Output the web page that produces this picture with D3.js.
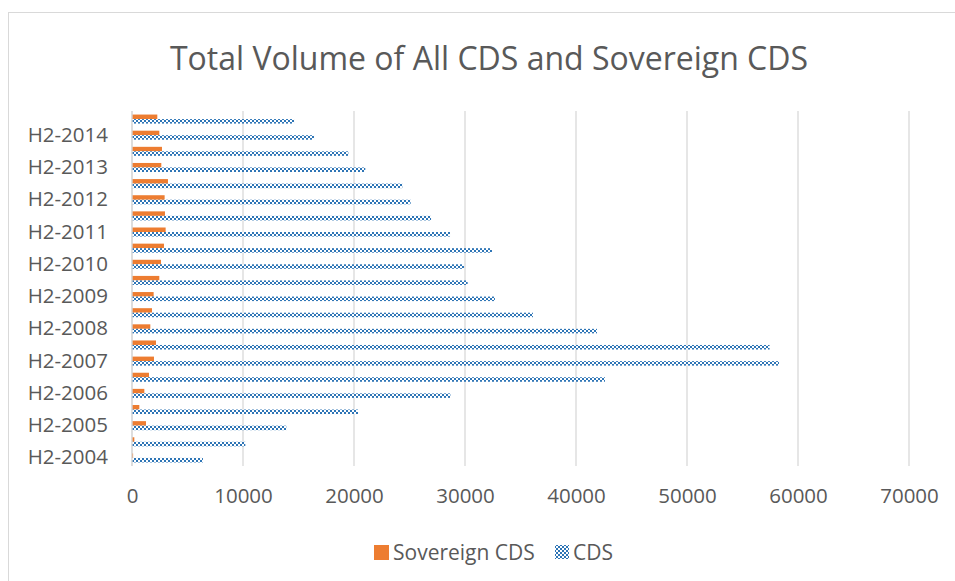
<!DOCTYPE html>
<html>
<head>
<meta charset="utf-8">
<script src="https://cdn.jsdelivr.net/npm/d3@7"></script>
<style>
  body { margin: 0; background: #fff; }
  svg text { font-family: "Open Sans", sans-serif; fill: #595959; }
</style>
</head>
<body>
<svg id="chart"></svg>
<script>
// half-year periods, oldest first
var categories = ["H2-2004", "H1-2005", "H2-2005", "H1-2006", "H2-2006", "H1-2007",
  "H2-2007", "H1-2008", "H2-2008", "H1-2009", "H2-2009", "H1-2010", "H2-2010",
  "H1-2011", "H2-2011", "H1-2012", "H2-2012", "H1-2013", "H2-2013", "H1-2014",
  "H2-2014", "H1-2015"];

var sovereignCDS = [100, 210, 1260, 660, 1110, 1530, 1980, 2160, 1650, 1800, 1950,
  2460, 2610, 2880, 3030, 2970, 2940, 3240, 2640, 2700, 2460, 2280];

var totalCDS = [6390, 10210, 13900, 20360, 28680, 42610, 58290, 57440, 41890, 36120,
  32700, 30240, 29910, 32430, 28650, 26940, 25100, 24350, 21020, 19490, 16400, 14600];

var xTicks = [0, 10000, 20000, 30000, 40000, 50000, 60000, 70000];

var seriesNames = ["Sovereign CDS", "CDS"];

var width = 955;
var height = 581;

var svg = d3.select("#chart")
  .attr("width", width)
  .attr("height", height);

// checker pattern for the CDS bars
var defs = svg.append("defs");
var pat = defs.append("pattern")
  .attr("id", "checker")
  .attr("patternUnits", "userSpaceOnUse")
  .attr("width", 4)
  .attr("height", 4);
pat.append("rect").attr("width", 4).attr("height", 4).attr("fill", "#fff");
pat.append("rect").attr("width", 2).attr("height", 2).attr("fill", "#2e75b6");
pat.append("rect").attr("x", 2).attr("y", 2).attr("width", 2).attr("height", 2).attr("fill", "#2e75b6");

// chart frame
svg.append("rect")
  .attr("x", 8.5)
  .attr("y", 12.5)
  .attr("width", 980)
  .attr("height", 600)
  .attr("fill", "none")
  .attr("stroke", "#d9d9d9");

svg.append("text")
  .attr("x", 489)
  .attr("y", 70)
  .attr("text-anchor", "middle")
  .style("font-size", "32px")
  .text("Total Volume of All CDS and Sovereign CDS");

var x = d3.scaleLinear()
  .domain([0, 70000])
  .range([132, 909]);

var y = d3.scaleBand()
  .domain(categories.slice().reverse())
  .range([111, 466])
  .paddingInner(0.44)
  .paddingOuter(0.22);

var ySeries = d3.scaleBand()
  .domain(seriesNames)
  .range([0, y.bandwidth()]);

// gridlines
svg.append("g")
  .selectAll("line")
  .data(xTicks)
  .enter()
  .append("line")
  .attr("x1", function(d){ return x(d); })
  .attr("x2", function(d){ return x(d); })
  .attr("y1", 111)
  .attr("y2", 466)
  .attr("stroke", "#d9d9d9")
  .attr("stroke-width", 1.3);

var rows = categories.map(function(c, i){
  return {cat: c, sov: sovereignCDS[i], cds: totalCDS[i]};
});

svg.append("g")
  .selectAll("rect")
  .data(rows)
  .enter()
  .append("rect")
  .attr("x", x(0))
  .attr("y", function(d){ return y(d.cat) + ySeries("Sovereign CDS"); })
  .attr("width", function(d){ return x(d.sov) - x(0); })
  .attr("height", ySeries.bandwidth())
  .attr("fill", "#ed7d31");

svg.append("g")
  .selectAll("rect")
  .data(rows)
  .enter()
  .append("rect")
  .attr("x", x(0))
  .attr("y", function(d){ return y(d.cat) + ySeries("CDS"); })
  .attr("width", function(d){ return x(d.cds) - x(0); })
  .attr("height", ySeries.bandwidth())
  .attr("fill", "url(#checker)");

// axes
var yAxis = svg.append("g")
  .attr("transform", "translate(132,0)")
  .call(d3.axisLeft(y)
    .tickValues(categories.filter(function(c){ return c.indexOf("H2") == 0; }))
    .tickSize(0)
    .tickPadding(24));
yAxis.select(".domain").remove();
yAxis.selectAll("text")
  .style("font-size", "20.5px")
  .attr("fill", "#595959");

svg.append("line")
  .attr("x1", x(0)).attr("x2", x(0))
  .attr("y1", 111).attr("y2", 466)
  .attr("stroke", "#d9d9d9")
  .attr("stroke-width", 1.3);

var xAxis = svg.append("g")
  .attr("transform", "translate(0,466)")
  .call(d3.axisBottom(x)
    .tickValues(xTicks)
    .tickSize(0)
    .tickPadding(22)
    .tickFormat(d3.format("d")));
xAxis.select(".domain").remove();
xAxis.selectAll("text")
  .style("font-size", "20.5px")
  .attr("fill", "#595959");

// legend
svg.append("rect")
  .attr("x", 374).attr("y", 545)
  .attr("width", 15).attr("height", 15)
  .attr("fill", "#ed7d31");
svg.append("text")
  .attr("x", 393).attr("y", 560)
  .style("font-size", "21px")
  .text("Sovereign CDS");
svg.append("rect")
  .attr("x", 555).attr("y", 545)
  .attr("width", 14).attr("height", 14)
  .attr("fill", "url(#checker)");
svg.append("text")
  .attr("x", 573).attr("y", 560)
  .style("font-size", "21px")
  .text("CDS");
</script>
</body>
</html>
